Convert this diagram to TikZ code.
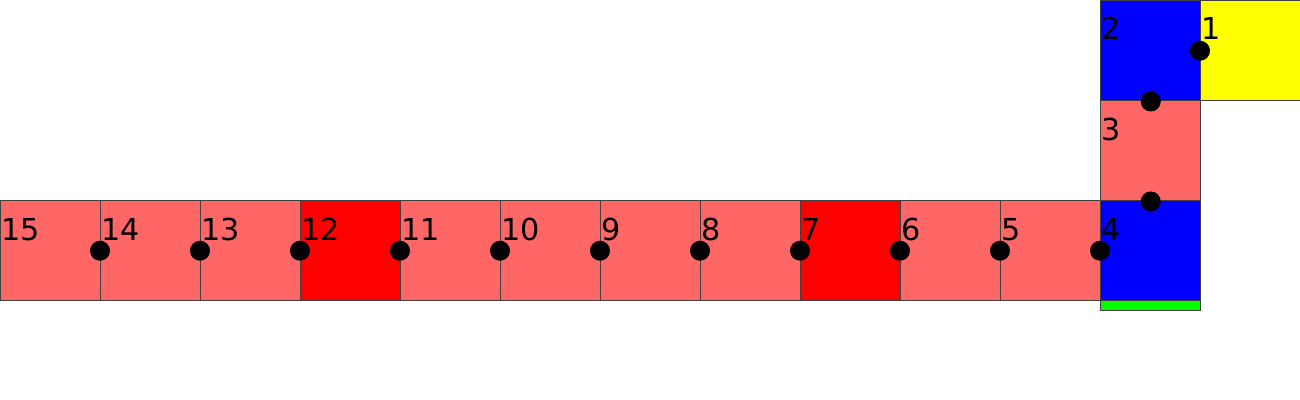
\documentclass[tikz,border=0pt]{standalone}
\usepackage{fontspec}
\setmainfont{DejaVu Sans}
\definecolor{salmon}{HTML}{FF6666}
\definecolor{pureRed}{HTML}{FF0000}
\definecolor{pureBlue}{HTML}{0000FF}
\definecolor{pureYellow}{HTML}{FFFF00}
\definecolor{pureGreen}{HTML}{00FF00}
\begin{document}
\begin{tikzpicture}[x=0.01cm,y=-0.01cm,
  cell/.style={draw=black!75,line width=0.4pt,inner sep=0pt,minimum size=1cm,anchor=north west},
  dot/.style={circle,fill=black,inner sep=0pt,minimum size=0.2cm},
  lbl/.style={anchor=base west,inner sep=0pt,font=\fontsize{8.6}{10}\selectfont}]
\useasboundingbox (0,0) rectangle (1300,400);
% cells
\node[cell,fill=pureYellow] (c1) at (1200,0) {};
\node[cell,fill=pureBlue] (c2) at (1100,0) {};
\node[cell,fill=salmon] (c3) at (1100,100) {};
\node[cell,fill=pureBlue] (c4) at (1100,200) {};
\node[cell,fill=salmon] (c5) at (1000,200) {};
\node[cell,fill=salmon] (c6) at (900,200) {};
\node[cell,fill=pureRed] (c7) at (800,200) {};
\node[cell,fill=salmon] (c8) at (700,200) {};
\node[cell,fill=salmon] (c9) at (600,200) {};
\node[cell,fill=salmon] (c10) at (500,200) {};
\node[cell,fill=salmon] (c11) at (400,200) {};
\node[cell,fill=pureRed] (c12) at (300,200) {};
\node[cell,fill=salmon] (c13) at (200,200) {};
\node[cell,fill=salmon] (c14) at (100,200) {};
\node[cell,fill=salmon] (c15) at (0,200) {};
% green bar
\node[draw=black!75,line width=0.4pt,fill=pureGreen,inner sep=0pt,minimum width=1cm,minimum height=0.1cm,anchor=north west] (bar) at (1100,300) {};
% labels
\node[lbl] (l1) at (1201,40) {1};
\node[lbl] (l2) at (1101,40) {2};
\node[lbl] (l3) at (1101,140) {3};
\foreach \i/\x in {4/1100,5/1000,6/900,7/800,8/700,9/600,10/500,11/400,12/300,13/200,14/100,15/0}{
  \node[lbl] (l\i) at (\x+1,240) {\i};
}
% dots
\node[dot] (d1) at (c1.west) {};
\node[dot] (d2) at (c2.south) {};
\node[dot] (d3) at (c3.south) {};
\foreach \i in {4,...,14}{
  \node[dot] (d\i) at (c\i.west) {};
}
\end{tikzpicture}
\end{document}
